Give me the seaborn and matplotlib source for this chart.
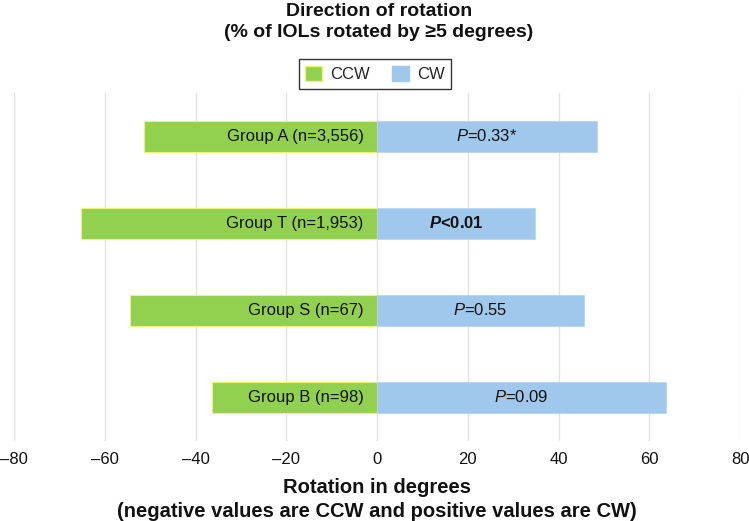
import matplotlib
matplotlib.use("Agg")
import matplotlib.pyplot as plt
import seaborn as sns
import pandas as pd
from matplotlib.patches import Patch
from matplotlib.ticker import FuncFormatter

# dados
groups = ["Group A (n=3,556)", "Group T (n=1,953)", "Group S (n=67)", "Group B (n=98)"]
ccw = [51.3, 65.3, 54.5, 36.5]
cw = [48.4, 34.7, 45.5, 63.7]
p_labels = [r"$\mathit{P}$=0.33*", r"$\mathbfit{P}$<0.01", r"$\mathit{P}$=0.55", r"$\mathit{P}$=0.09"]
p_bold = [False, True, False, False]
x_ticks = [-80, -60, -40, -20, 0, 20, 40, 60, 80]

green = "#92D050"
blue = "#9FC8EC"

sns.set_theme(style="white")
plt.rcParams["font.family"] = ["Liberation Sans", "DejaVu Sans"]
plt.rcParams["mathtext.fontset"] = "custom"
plt.rcParams["mathtext.rm"] = "Liberation Sans"
plt.rcParams["mathtext.it"] = "Liberation Sans:italic"
plt.rcParams["mathtext.bf"] = "Liberation Sans:bold"
plt.rcParams["mathtext.bfit"] = "Liberation Sans:bold:italic"

df = pd.DataFrame({"grupo": groups, "ccw": [-v for v in ccw], "cw": cw})

fig, ax = plt.subplots(figsize=(7.49, 5.21), dpi=100)
fig.subplots_adjust(left=0.0191, right=0.988, bottom=0.1536, top=0.8215)

sns.barplot(data=df, x="ccw", y="grupo", orient="h", color=green, width=0.36,
            edgecolor="#EEF27A", linewidth=0.8, saturation=1, ax=ax, zorder=3)
sns.barplot(data=df, x="cw", y="grupo", orient="h", color=blue, width=0.36,
            edgecolor="#B5D5F0", linewidth=0.6, saturation=1, ax=ax, zorder=3)

# textos dentro das barras
for i, g in enumerate(groups):
    ax.text(-3, i, g, ha="right", va="center", fontsize=12, color="#111111", zorder=4)
    ax.text(cw[i] / 2, i, p_labels[i], ha="center", va="center", fontsize=12,
            color="#111111", fontweight="bold" if p_bold[i] else "normal", zorder=4)

ax.set_xlim(-80, 80)
ax.set_xticks(x_ticks)
ax.xaxis.set_major_formatter(FuncFormatter(lambda v, _: f"{int(v)}".replace("-", "\u2013")))
ax.tick_params(axis="x", length=0, labelsize=12, pad=8, colors="#111111")
ax.set_yticks([])
ax.set_ylabel("")
ax.grid(axis="x", color="#E2E2E2", linewidth=1, zorder=0)
ax.set_axisbelow(True)
for s in ax.spines.values():
    s.set_visible(False)

ax.set_xlabel("Rotation in degrees\n(negative values are CCW and positive values are CW)",
              fontsize=14.5, fontweight="bold", linespacing=1.3, labelpad=8, color="#111111")

fig.text(0.5056, 0.995, "Direction of rotation\n(% of IOLs rotated by \u22655 degrees)",
         ha="center", va="top", fontsize=14, fontweight="bold", linespacing=1.35, color="#111111")

handles = [Patch(facecolor=green, edgecolor="#EEF27A", linewidth=1.0, label="CCW"),
           Patch(facecolor=blue, edgecolor=blue, label="CW")]
leg = fig.legend(handles=handles, loc="center", bbox_to_anchor=(375 / 749, 1 - 74 / 521),
                 ncol=2, fontsize=12, frameon=True, fancybox=False, edgecolor="black",
                 handlelength=1.0, handleheight=1.0, columnspacing=1.3, handletextpad=0.5,
                 borderpad=0.4)
leg.get_frame().set_linewidth(1.0)

plt.savefig("out.png", dpi=100)
plt.close()
